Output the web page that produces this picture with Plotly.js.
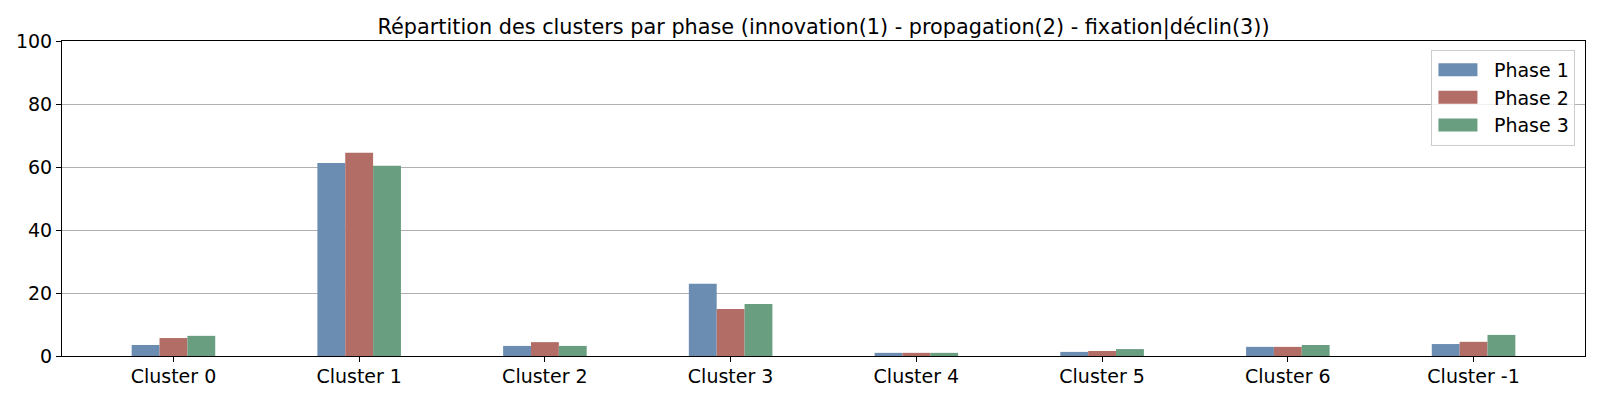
<!DOCTYPE html>
<html>
<head>
<meta charset="utf-8">
<script src="https://cdn.plot.ly/plotly-3.0.1.min.js"></script>
<style>html,body{margin:0;padding:0;background:#fff}#chart{width:1600px;height:400px}</style>
</head>
<body>
<div id="chart"></div>
<script>
const categories = ["Cluster 0", "Cluster 1", "Cluster 2", "Cluster 3", "Cluster 4", "Cluster 5", "Cluster 6", "Cluster -1"];
const phase1 = [3.5, 61.3, 3.2, 22.9, 1.0, 1.3, 2.9, 3.8];
const phase2 = [5.7, 64.5, 4.4, 14.9, 1.0, 1.6, 2.9, 4.5];
const phase3 = [6.4, 60.4, 3.2, 16.5, 1.0, 2.2, 3.5, 6.7];
const seriesNames = ["Phase 1", "Phase 2", "Phase 3"];
const colors = ["#6c8db2", "#b36d67", "#6a9e80"];
const yTicks = [0, 20, 40, 60, 80, 100];

const data = [phase1, phase2, phase3].map((vals, i) => ({
  type: "bar",
  name: seriesNames[i],
  x: categories,
  y: vals,
  marker: {color: colors[i], line: {width: 0}},
  hoverinfo: "x+y+name"
}));

const layout = {
  width: 1600, height: 400,
  margin: {l: 62, r: 15, t: 41, b: 44},
  paper_bgcolor: "#fff", plot_bgcolor: "#fff",
  font: {family: "DejaVu Sans", size: 19, color: "#000"},
  title: {text: "Répartition des clusters par phase (innovation(1) - propagation(2) - fixation|déclin(3))",
          font: {family: "DejaVu Sans", size: 20.8, color: "#000"},
          xref: "paper", x: 0.5, xanchor: "center", y: 0.933, yanchor: "middle"},
  barmode: "group",
  bargap: 0.55,
  bargroupgap: 0,
  xaxis: {
    type: "category", range: [-0.6, 7.6],
    showline: true, linecolor: "#000", linewidth: 1, mirror: true,
    ticks: "outside", ticklen: 5, tickcolor: "#000", showgrid: false,
    ticklabelstandoff: -2,
    tickfont: {family: "DejaVu Sans", size: 19, color: "#000"}
  },
  yaxis: {
    range: [0, 100], tickvals: yTicks, ticktext: yTicks.map(String),
    showline: true, linecolor: "#000", linewidth: 1, mirror: true,
    ticks: "outside", ticklen: 5, tickcolor: "#000",
    showgrid: true, gridcolor: "#b0b0b0", gridwidth: 1, zeroline: false,
    tickfont: {family: "DejaVu Sans", size: 19, color: "#000"}
  },
  legend: {
    x: 0.9934, y: 0.972, xanchor: "right", yanchor: "top",
    bgcolor: "rgba(255,255,255,0.8)", bordercolor: "#cccccc", borderwidth: 1,
    font: {family: "DejaVu Sans", size: 19, color: "#000"},
    itemwidth: 52, tracegroupgap: 4
  },
  showlegend: true
};

Plotly.newPlot("chart", data, layout, {displayModeBar: false, staticPlot: true}).then(gd => {
  gd.querySelectorAll(".legend .legendpoints path").forEach(p => {
    p.setAttribute("d", "M19.5,6.5H-19.5V-6.5H19.5Z");
    p.setAttribute("transform", "translate(26,0)");
  });
});
</script>
</body>
</html>
